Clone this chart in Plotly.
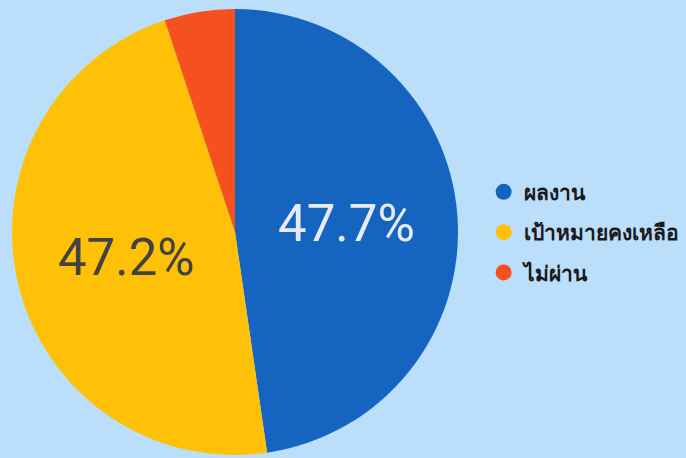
import plotly.graph_objects as go

labels = ["ผลงาน", "เป้าหมายคงเหลือ", "ไม่ผ่าน"]
values = [47.7, 47.2, 5.1]
colors = ["#1565C0", "#FFC107", "#F4511E"]
text_colors = ["#E8EAF6", "#424242", "#FFFFFF"]
shown_text = ["47.7%", "47.2%", ""]

W, H = 686, 458
cx, cy, r = 235, 232, 223

fig = go.Figure()
fig.add_trace(go.Pie(
    labels=labels, values=values, sort=False, direction="clockwise", rotation=0,
    marker=dict(colors=colors, line=dict(width=0)),
    text=shown_text, textinfo="text", textposition="inside",
    insidetextorientation="horizontal",
    insidetextfont=dict(family="Roboto", size=51, color=text_colors),
    showlegend=False, hoverinfo="label+percent",
    domain=dict(x=[(cx - r) / W, (cx + r) / W], y=[(H - cy - r) / H, (H - cy + r) / H]),
))
for i, (lab, col) in enumerate(zip(labels, colors)):
    fig.add_trace(go.Scatter(
        x=[None], y=[None], mode="markers", name=lab,
        marker=dict(symbol="circle", size=22, color=col),
        legendgroup=str(i),
    ))

fig.update_layout(
    width=W, height=H,
    margin=dict(l=0, r=0, t=0, b=0),
    paper_bgcolor="#BBDEFB", plot_bgcolor="#BBDEFB",
    xaxis=dict(visible=False), yaxis=dict(visible=False),
    legend=dict(x=0.705, y=0.493, xanchor="left", yanchor="middle",
                font=dict(family="Noto Sans", size=21, color="#1a1a1a", weight="bold"),
                tracegroupgap=10, bgcolor="rgba(0,0,0,0)", itemwidth=30),
)
fig.write_html("out.html", config={"displayModeBar": False},
               post_script="document.body.style.margin='0';document.body.style.overflow='hidden';")
